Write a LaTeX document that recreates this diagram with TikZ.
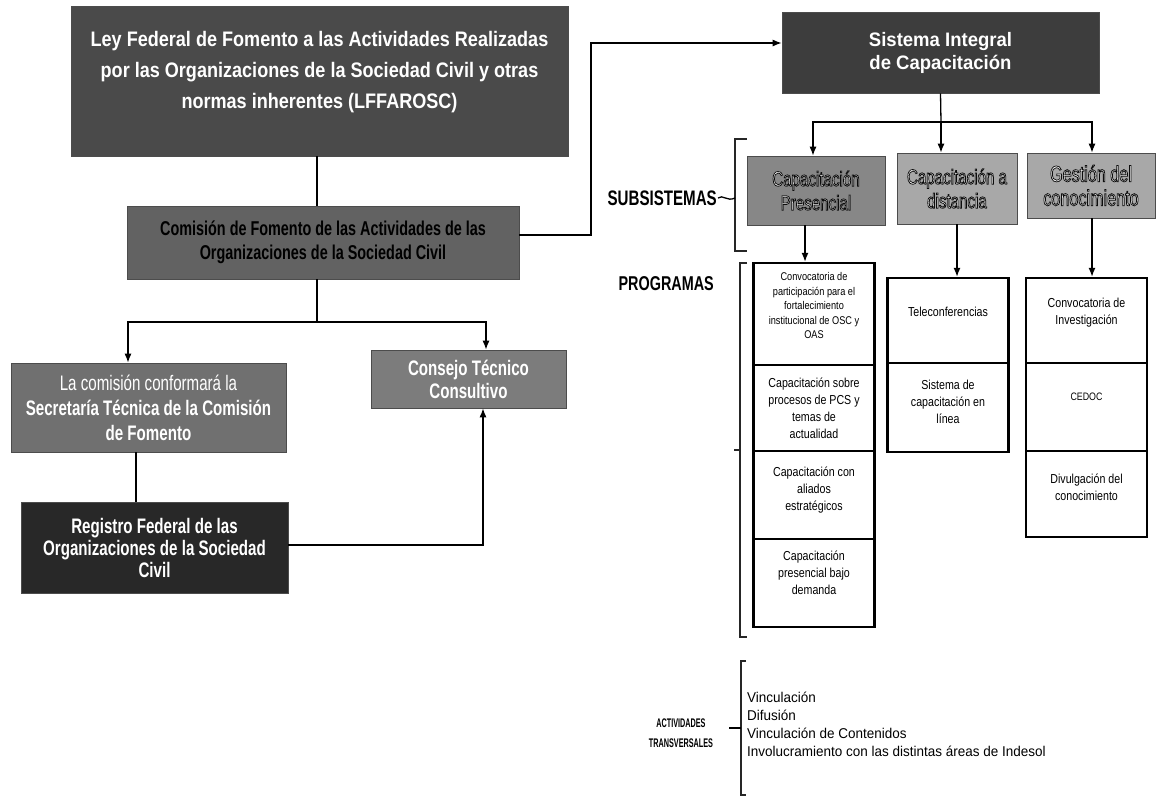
\documentclass[tikz,border=0pt]{standalone}
\usepackage{fontspec}
\setmainfont{Liberation Sans}[FakeStretch=0.82]
\newfontfamily\condfont{Liberation Sans}[FakeStretch=0.72]
\newfontfamily\leyfont{Liberation Sans}[FakeStretch=0.86]
\newfontfamily\widefont{Liberation Sans}[FakeStretch=0.95]
\newfontfamily\tightfont{Liberation Sans}[FakeStretch=0.58]
\usetikzlibrary{arrows.meta,calc}

\definecolor{leygray}{HTML}{4A4A4A}
\definecolor{comgray}{HTML}{626262}
\definecolor{secgray}{HTML}{707070}
\definecolor{congray}{HTML}{7C7C7C}
\definecolor{reggray}{HTML}{282828}
\definecolor{sisgray}{HTML}{3D3D3D}
\definecolor{presgray}{HTML}{878787}
\definecolor{subgray}{HTML}{A8A8A8}

% light lettering with a dark rim (fill + stroke text rendering)
\newcommand\rimmed[1]{\special{pdf:literal direct 2 Tr 0.75 w 0.05 0.05 0.05 RG}#1\special{pdf:literal direct 0 Tr}}

\begin{document}
\begin{tikzpicture}[x=1pt,y=-1pt,
  box/.style={rectangle, inner sep=0pt, align=center, draw=black!70, line width=0.6pt},
  prog/.style={rectangle, inner sep=0pt, align=center, draw=black, line width=2.4pt,
    fill=white, text=black, minimum width=121pt},
  link/.style={line width=1.3pt, draw=black},
  arr/.style={link, -{Latex[length=9pt,width=7pt]}},
  bracket/.style={line width=2.6pt, draw=black!85},
  subfont/.style={font=\condfont\fontsize{21}{24}\selectfont},
  progfont/.style={font=\fontsize{13}{17}\selectfont}
]
\useasboundingbox (0,0) rectangle (1157,796);

% ---------- left block: law, commission and its bodies ----------
\node[box, font=\leyfont\bfseries\fontsize{21}{31}\selectfont, fill=leygray, text=white,
      minimum width=497pt, minimum height=150pt]
  (ley) at (319.5,81)
  {Ley Federal de Fomento a las Actividades Realizadas\\
   por las Organizaciones de la Sociedad Civil y otras\\
   normas inherentes (LFFAROSC)\\[-9pt]\mbox{}};

\node[box, font=\condfont\bfseries\fontsize{20}{24}\selectfont, fill=comgray, text=black,
      minimum width=392pt, minimum height=73pt]
  (com) at (323,242.5)
  {Comisión de Fomento de las Actividades de las\\
   Organizaciones de la Sociedad Civil};

\node[box, font=\condfont\fontsize{21}{25}\selectfont, fill=secgray, text=white,
      minimum width=275pt, minimum height=89pt]
  (sec) at (148.5,407.5)
  {La comisión conformará la\\
   \textbf{Secretaría Técnica de la Comisión}\\
   \textbf{de Fomento}};

\node[box, font=\condfont\bfseries\fontsize{21}{22}\selectfont, fill=reggray, text=white,
      minimum width=267pt, minimum height=91pt]
  (reg) at (154.5,547.5)
  {Registro Federal de las\\
   Organizaciones de la Sociedad\\
   Civil};

\node[box, font=\condfont\bfseries\fontsize{21}{23}\selectfont, fill=congray, text=white,
      minimum width=195pt, minimum height=58pt]
  (con) at (468.5,379)
  {Consejo Técnico\\Consultivo};

% ---------- right block: training system ----------
\node[box, font=\widefont\bfseries\fontsize{19.5}{23}\selectfont, fill=sisgray, text=white,
      minimum width=317pt, minimum height=81pt]
  (sis) at (940.5,52.5)
  {Sistema Integral\\de Capacitación};

\node[box, subfont, fill=presgray, text=white, minimum width=138pt, minimum height=69pt]
  (pres) at (816,190.5)
  {\rimmed{Capacitación}\\\rimmed{Presencial}};
\node[box, subfont, fill=subgray, text=white, minimum width=120pt, minimum height=71pt]
  (dist) at (957,188.5)
  {\rimmed{Capacitación a}\\\rimmed{distancia}};
\node[box, font=\condfont\fontsize{22.5}{24}\selectfont, fill=subgray, text=white,
      minimum width=128pt, minimum height=65pt]
  (gest) at (1091,185.5)
  {\rimmed{Gestión del}\\\rimmed{conocimiento}};

% programme columns
\node[prog, font=\fontsize{11.2}{14.5}\selectfont, minimum height=102pt] (p1) at (814,314)
  {Convocatoria de\\participación para el\\fortalecimiento\\institucional de OSC y\\OAS\\[2pt]\mbox{}};
\node[prog, progfont, minimum height=86pt] (p2) at (814,408)
  {Capacitación sobre\\procesos de PCS y\\temas de\\actualidad};
\node[prog, progfont, minimum height=88pt] (p3) at (814,495)
  {Capacitación con\\aliados\\estratégicos\\[-4pt]\mbox{}};
\node[prog, progfont, minimum height=88pt] (p4) at (814,583)
  {Capacitación\\presencial bajo\\demanda\\[4pt]\mbox{}};

\node[prog, progfont, minimum height=85pt] (d1) at (948,320.5)
  {Teleconferencias\\\mbox{}};
\node[prog, progfont, minimum height=89pt] (d2) at (948,407.5)
  {Sistema de\\capacitación en\\línea\\[-5pt]\mbox{}};

\node[prog, progfont, minimum height=85pt] (g1) at (1086.5,320.5)
  {Convocatoria de\\Investigación\\[2pt]\mbox{}};
\node[prog, font=\fontsize{10.8}{14}\selectfont, minimum height=88pt] (g2) at (1086.5,407)
  {CEDOC\\[6pt]\mbox{}};
\node[prog, progfont, minimum height=86pt] (g3) at (1086.5,494)
  {Divulgación del\\conocimiento\\[-4pt]\mbox{}};

% ---------- side labels and brackets ----------
\node[font=\condfont\bfseries\fontsize{21}{22}\selectfont, anchor=east, inner sep=0pt]
  (subs) at (717,198) {SUBSISTEMAS};
\node[font=\condfont\bfseries\fontsize{20}{22}\selectfont, anchor=east, inner sep=0pt]
  (progl) at (714,284) {PROGRAMAS};
\node[font=\tightfont\bfseries\fontsize{12.5}{20}\selectfont, align=center, inner sep=0pt]
  (act) at (681,733) {ACTIVIDADES\\TRANSVERSALES};
\node[font=\widefont\fontsize{14.2}{18}\selectfont, align=left, anchor=north west, inner sep=0pt]
  (list) at (747,691.5)
  {Vinculación\\Difusión\\Vinculación de Contenidos\\
   Involucramiento con las distintas áreas de Indesol};

\draw[bracket] (747,139) -- (735,139) -- (735,251) -- (747,251);
\draw[line width=1.3pt] ([xshift=1pt]subs.east) .. controls (723,194) and (727,202) .. (735,198);

\draw[bracket] (747,263) -- (740,263) -- (740,637) -- (747,637);
\draw[bracket] (740,450) -- (734,450);

\draw[bracket, line width=1.6pt] (746,661) -- (741,661) -- (741,795) -- (746,795);
\draw[line width=1.6pt] (741,728) -- (729,728);

% ---------- connectors ----------
\coordinate (j1) at (317,322);
\coordinate (c1) at (591,235);
\coordinate (j2) at (941,122);

\draw[link] ([xshift=-2.5pt]ley.south) -- ([xshift=-6pt]com.north);
\draw[link] ([xshift=-6pt]com.south) -- (j1);
\draw[arr] (j1) -| ([xshift=-20.5pt]sec.north);
\draw[arr] (j1) -| ([xshift=17.5pt]con.north);
\draw[link] ([xshift=-12.5pt]sec.south) -- ([xshift=-18.5pt]reg.north);
\draw[arr] ([yshift=2.5pt]reg.east) -| ([xshift=14.5pt]con.south);

\draw[arr] ([yshift=7.5pt]com.east) -- (c1) |- ([yshift=9.5pt]sis.west);

\draw[link] (sis.south) -- (j2);
\draw[arr] (j2) -| ([xshift=-3pt]pres.north);
\draw[arr] (j2) -- (dist.north -| j2);
\draw[arr] (j2) -| ([xshift=1pt]gest.north);

\draw[arr] ([xshift=-11pt]pres.south) -- ([xshift=-9pt]p1.north);
\draw[arr] (dist.south) -- ([xshift=9pt]d1.north);
\draw[arr] ([xshift=1pt]gest.south) -- ([xshift=5.5pt]g1.north);

\end{tikzpicture}
\end{document}
